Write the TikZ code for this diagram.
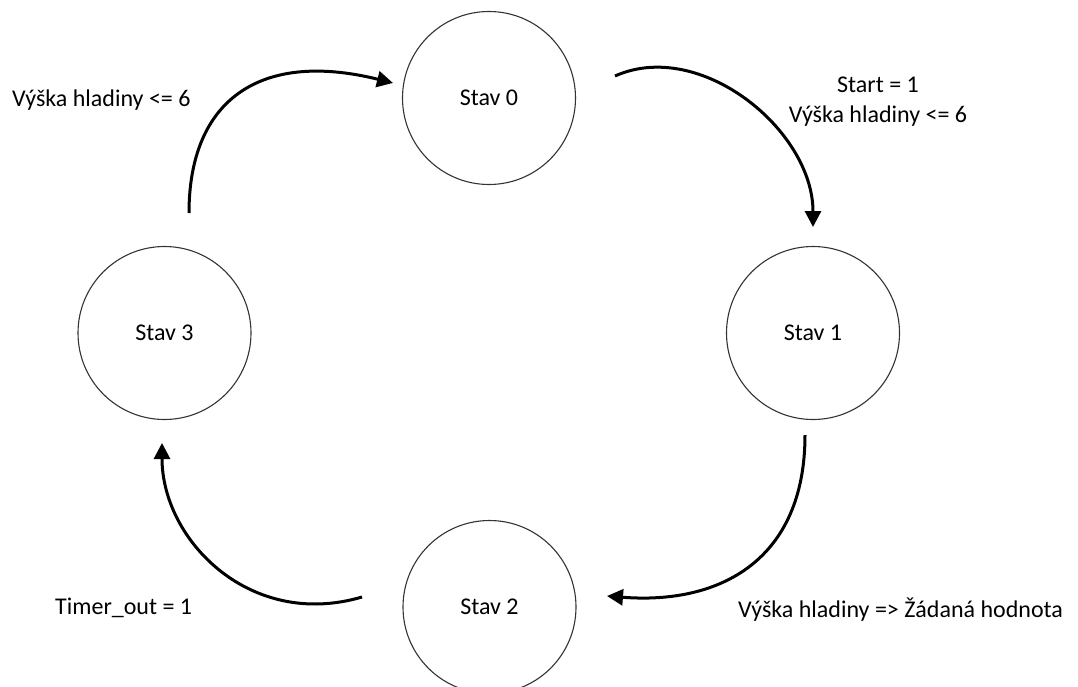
\documentclass[tikz,border=0pt]{standalone}
\usepackage{fontspec}
\setmainfont{Carlito}
\usetikzlibrary{arrows.meta}
\begin{document}
\begin{tikzpicture}[x=1pt,y=-1pt,
  state/.style={circle,draw=black!80,line width=1.1pt,minimum size=173pt,inner sep=0pt,font=\fontsize{24}{30}\selectfont},
  lbl/.style={inner sep=0pt,font=\fontsize{24}{30}\selectfont},
  trans/.style={line width=3pt,-{Triangle[length=16pt,width=16pt]}}]
\useasboundingbox (0,0) rectangle (1078,686);
\node[state] (s0) at (489,98) {Stav 0};
\node[state] (s1) at (813,333) {Stav 1};
\node[state] (s2) at (489.5,607) {Stav 2};
\node[state] (s3) at (164.5,333) {Stav 3};
% connector end points
\coordinate (a0s) at (615,76);
\coordinate (a0e) at (813,227);
\coordinate (a1s) at (805,435);
\coordinate (a1e) at (607,596);
\coordinate (a2s) at (362,597);
\coordinate (a2e) at (162,443);
\coordinate (a3s) at (189,213);
\coordinate (a3e) at (393,83);
\draw[trans] (a0s) .. controls (700,38) and (813,130) .. (a0e);
\draw[trans] (a1s) .. controls (805,560) and (720,605) .. (a1e);
\draw[trans] (a2s) .. controls (250,630) and (162,540) .. (a2e);
\draw[trans] (a3s) .. controls (189,100) and (260,50) .. (a3e);
% labels
\node[lbl,anchor=base,align=center] (l01) at (878,122) {Start = 1\\Výška hladiny <= 6};
\node[lbl,anchor=base west] (l12) at (738,617) {Výška hladiny => Žádaná hodnota};
\node[lbl,anchor=base west] (l23) at (55,614) {Timer\_out = 1};
\node[lbl,anchor=base west] (l30) at (12,106) {Výška hladiny <= 6};
\end{tikzpicture}
\end{document}
